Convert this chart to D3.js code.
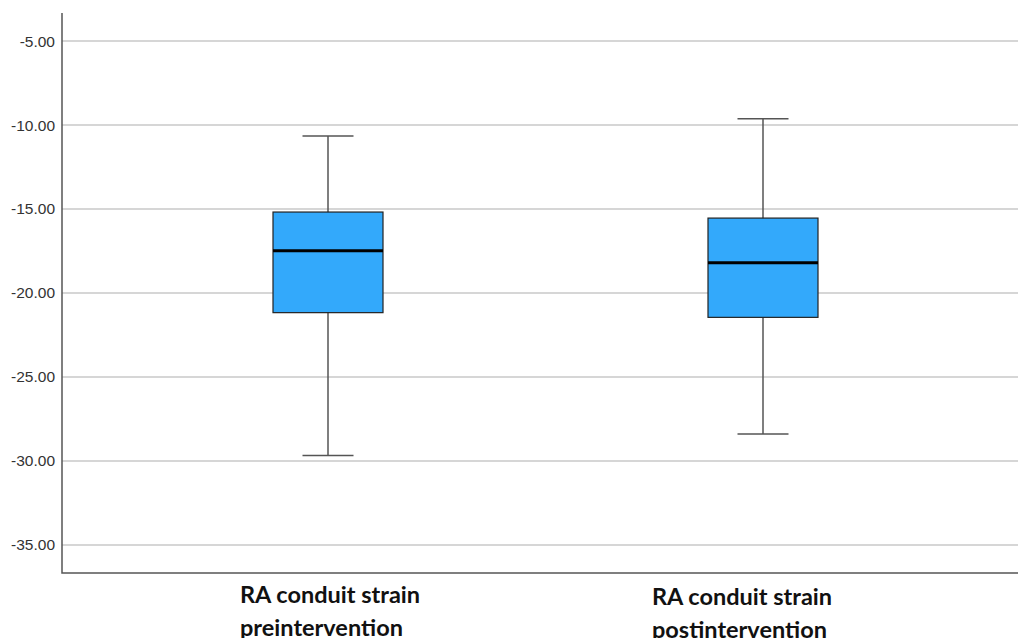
<!DOCTYPE html>
<html>
<head>
<meta charset="utf-8">
<script src="https://cdn.jsdelivr.net/npm/d3@7"></script>
<style>
  body { margin: 0; background: #fff; }
</style>
</head>
<body>
<div id="chart"></div>
<script>
// box plot values
var categories = ["pre", "post"];
var labelLines = [["RA conduit strain", "preintervention"], ["RA conduit strain", "postintervention"]];
var whiskerLow  = [-29.68, -28.39];
var q1          = [-21.17, -21.45];
var median      = [-17.48, -18.20];
var q3          = [-15.18, -15.54];
var whiskerHigh = [-10.65, -9.62];
var tickValues  = [-5, -10, -15, -20, -25, -30, -35];

function drawBoxplot() {
  var width = 1018, height = 638;
  var plotLeft = 62, plotTop = 13, plotBottom = 573;

  var svg = d3.select('#chart').append('svg')
      .attr('width', width)
      .attr('height', height);

  var y = d3.scaleLinear()
      .domain([-36.67, -3.33])
      .range([plotBottom, plotTop]);

  var x = d3.scalePoint()
      .domain(categories)
      .range([328, 763]);

  var boxW = 110, capW = 51;

  // gridlines
  svg.append('g')
      .selectAll('line')
      .data(tickValues)
      .enter()
      .append('line')
      .attr('x1', plotLeft).attr('x2', width)
      .attr('y1', function (d) { return y(d); })
      .attr('y2', function (d) { return y(d); })
      .attr('stroke', '#c8c8c8')
      .attr('stroke-width', 1.5);

  // y axis (plain hyphen minus like the SPSS output)
  var fmt = d3.format('.2f');
  var yAxis = d3.axisLeft(y)
      .tickValues(tickValues)
      .tickSize(0)
      .tickPadding(7)
      .tickFormat(function (d) { return fmt(d).replace('\u2212', '-'); });

  var ga = svg.append('g')
      .attr('transform', 'translate(' + plotLeft + ',0)')
      .call(yAxis);
  ga.select('.domain').remove();
  ga.selectAll('text')
      .attr('font-family', 'Liberation Sans, Arial, sans-serif')
      .attr('font-size', 15.5)
      .attr('fill', '#333');

  // axis frame lines
  svg.append('polyline')
      .attr('points', plotLeft + ',' + plotTop + ' ' + plotLeft + ',' + plotBottom + ' ' + width + ',' + plotBottom)
      .attr('fill', 'none')
      .attr('stroke', '#555')
      .attr('stroke-width', 1.5);

  // boxes
  var g = svg.selectAll('.box')
      .data(categories)
      .enter()
      .append('g')
      .attr('class', 'box');

  // whisker stems
  g.append('line')
      .attr('x1', function (d) { return x(d); })
      .attr('x2', function (d) { return x(d); })
      .attr('y1', function (d, i) { return y(whiskerHigh[i]); })
      .attr('y2', function (d, i) { return y(whiskerLow[i]); })
      .attr('stroke', '#555')
      .attr('stroke-width', 1.5);

  // caps
  [whiskerLow, whiskerHigh].forEach(function (arr) {
    g.append('line')
        .attr('x1', function (d) { return x(d) - capW / 2; })
        .attr('x2', function (d) { return x(d) + capW / 2; })
        .attr('y1', function (d, i) { return y(arr[i]); })
        .attr('y2', function (d, i) { return y(arr[i]); })
        .attr('stroke', '#555')
        .attr('stroke-width', 1.5);
  });

  g.append('rect')
      .attr('x', function (d) { return x(d) - boxW / 2; })
      .attr('width', boxW)
      .attr('y', function (d, i) { return y(q3[i]); })
      .attr('height', function (d, i) { return y(q1[i]) - y(q3[i]); })
      .attr('fill', '#33a9fb')
      .attr('stroke', '#222')
      .attr('stroke-width', 1.2);

  g.append('line')
      .attr('x1', function (d) { return x(d) - boxW / 2; })
      .attr('x2', function (d) { return x(d) + boxW / 2; })
      .attr('y1', function (d, i) { return y(median[i]); })
      .attr('y2', function (d, i) { return y(median[i]); })
      .attr('stroke', '#000')
      .attr('stroke-width', 3);

  // category labels
  var labelX = [240, 652];
  var labelY = [603, 605];
  g.each(function (d, i) {
    var t = d3.select(this).append('text')
        .attr('font-family', 'Lato, Open Sans, sans-serif')
        .attr('font-weight', 'bold')
        .attr('font-size', 23.5)
        .attr('fill', '#111');
    labelLines[i].forEach(function (line, k) {
      t.append('tspan')
          .attr('x', labelX[i])
          .attr('y', labelY[i] + k * 33)
          .text(line);
    });
  });
}

drawBoxplot();
</script>
</body>
</html>
